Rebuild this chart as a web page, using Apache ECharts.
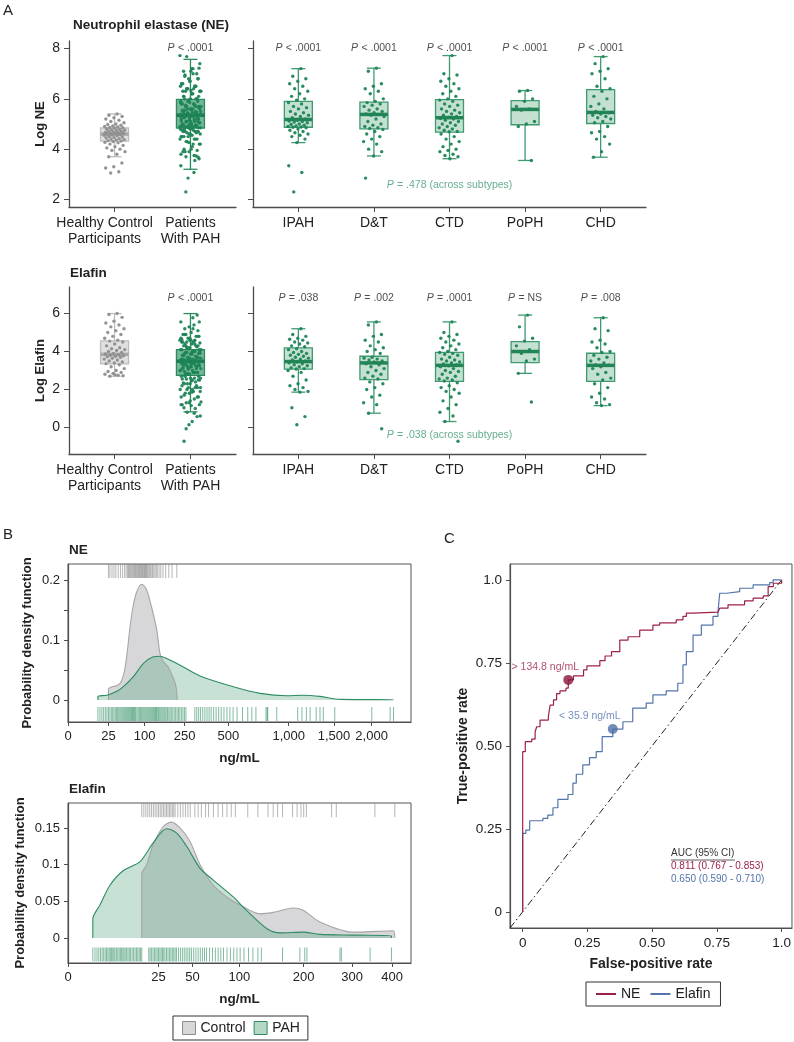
<!DOCTYPE html>
<html lang="en">
<head>
<meta charset="UTF-8"/>
<title>NE and Elafin in PAH</title>
<script src="https://cdn.jsdelivr.net/npm/echarts@6/dist/echarts.min.js"></script>
<style>
  html, body { margin: 0; padding: 0; background: #fff; }
  #main { width: 794px; height: 1042px; }
</style>
</head>
<body>
<div id="main"></div>
<script>
// ---------- panel A : categories ----------
var groupsA = ['Healthy Control\nParticipants', 'Patients\nWith PAH'];
var subtypes = ['IPAH', 'D&T', 'CTD', 'PoPH', 'CHD'];

// box stats: [lower whisker, q1, median, q3, upper whisker]
var neBoxMain = [[3.7, 4.32, 4.6, 4.84, 5.4], [3.2, 4.84, 5.35, 5.98, 7.57]];
var neBoxSub = [[4.26, 4.87, 5.18, 5.9, 7.2], [3.73, 4.81, 5.38, 5.87, 7.22], [3.62, 4.68, 5.25, 5.97, 7.72],
                [3.55, 4.97, 5.58, 5.93, 6.33], [3.68, 5.02, 5.46, 6.37, 7.68]];
var elBoxMain = [[2.7, 3.35, 3.85, 4.56, 6.0], [0.82, 2.74, 3.49, 4.1, 6.0]];
var elBoxSub = [[1.86, 3.07, 3.47, 4.19, 5.2], [0.75, 2.52, 3.4, 3.75, 5.56], [0.31, 2.43, 3.27, 3.96, 5.56],
                [2.85, 3.42, 4.0, 4.52, 5.92], [1.15, 2.43, 3.27, 3.91, 5.78]];

// p values
var neMainP = ['< .0001'];
var neSubP = ['< .0001', '< .0001', '< .0001', '< .0001', '< .0001'];
var neAcross = '= .478 (across subtypes)';
var elMainP = ['< .0001'];
var elSubP = ['= .038', '= .002', '= .0001', '= NS', '= .008'];
var elAcross = '= .038 (across subtypes)';

// individual points (log NE)
var neHealthy = [5.4, 5.35, 5.3, 5.25, 5.2, 5.15, 5.1, 5.05, 5.0, 4.98, 4.95, 4.92, 4.9, 4.88, 4.86, 4.85,
  4.83, 4.8, 4.78, 4.76, 4.75, 4.73, 4.72, 4.7, 4.68, 4.66, 4.65, 4.63, 4.62, 4.61,
  4.6, 4.58, 4.56, 4.55, 4.53, 4.5, 4.48, 4.46, 4.45, 4.42, 4.4, 4.38, 4.36, 4.34,
  4.32, 4.3, 4.27, 4.25, 4.2, 4.15, 4.1, 4.05, 4.0, 3.95, 3.9, 3.8, 3.7, 3.45, 3.3, 3.25, 3.1, 3.05];
var neIPAH = [7.2, 6.9, 6.8, 6.7, 6.6, 6.5, 6.4, 6.3, 6.2, 6.1, 6.0, 5.95, 5.85, 5.8, 5.7, 5.65, 5.6, 5.5, 5.45,
  5.4, 5.35, 5.3, 5.25, 5.2, 5.15, 5.12, 5.1, 5.08, 5.05, 5.0, 4.98, 4.95, 4.92, 4.9, 4.88, 4.87,
  4.85, 4.8, 4.75, 4.7, 4.65, 4.6, 4.55, 4.5, 4.4, 4.26, 3.34, 3.07, 2.3];
var neDT = [7.22, 7.1, 6.6, 6.5, 6.4, 6.3, 6.2, 6.0, 5.9, 5.85, 5.8, 5.75, 5.7, 5.6, 5.55, 5.5, 5.45, 5.4, 5.38,
  5.35, 5.3, 5.2, 5.1, 5.0, 4.95, 4.9, 4.85, 4.82, 4.78, 4.7, 4.6, 4.5, 4.4, 4.3, 4.2, 4.0, 3.9, 3.73, 2.85];
var neCTD = [7.72, 7.0, 6.95, 6.8, 6.7, 6.6, 6.5, 6.4, 6.3, 6.2, 6.1, 6.0, 5.95, 5.9, 5.8, 5.75, 5.7, 5.6, 5.55,
  5.5, 5.45, 5.4, 5.35, 5.3, 5.27, 5.22, 5.2, 5.15, 5.1, 5.05, 5.0, 4.95, 4.9, 4.85, 4.8, 4.75, 4.7, 4.69,
  4.6, 4.5, 4.4, 4.3, 4.2, 4.1, 4.0, 3.95, 3.9, 3.8, 3.75, 3.7, 3.62];
var nePoPH = [6.33, 6.3, 6.0, 5.9, 5.7, 5.6, 5.55, 5.1, 5.0, 4.9, 3.55];
var neCHD = [7.68, 7.4, 7.2, 7.1, 7.0, 6.8, 6.5, 6.4, 6.3, 6.1, 6.0, 5.8, 5.7, 5.6, 5.5, 5.45, 5.4, 5.35, 5.3,
  5.25, 5.2, 5.1, 5.05, 4.9, 4.7, 4.65, 4.5, 4.4, 4.2, 3.9, 3.68];

// individual points (log elafin)
var elHealthy = [6.0, 5.95, 5.8, 5.6, 5.5, 5.4, 5.3, 5.2, 5.1, 5.0, 4.9, 4.8, 4.7, 4.6, 4.55, 4.5, 4.4, 4.3, 4.2,
  4.15, 4.1, 4.05, 4.0, 3.95, 3.9, 3.87, 3.83, 3.8, 3.78, 3.75, 3.72, 3.7, 3.65, 3.6, 3.55, 3.5, 3.45, 3.4,
  3.36, 3.3, 3.2, 3.1, 3.0, 2.95, 2.9, 2.85, 2.8, 2.75, 2.7, 2.72, 2.78];
var elIPAH = [5.2, 4.9, 4.8, 4.7, 4.65, 4.6, 4.5, 4.45, 4.4, 4.3, 4.25, 4.15, 4.1, 4.0, 3.95, 3.9, 3.85, 3.8,
  3.75, 3.7, 3.65, 3.6, 3.55, 3.5, 3.45, 3.4, 3.35, 3.3, 3.25, 3.2, 3.15, 3.1, 3.08, 3.0, 2.9, 2.7, 2.5,
  2.3, 2.2, 2.1, 2.0, 1.9, 1.86, 1.04, 0.57, 0.14];
var elDT = [5.56, 5.4, 4.9, 4.8, 4.6, 4.5, 4.3, 4.2, 4.1, 4.0, 3.9, 3.7, 3.65, 3.6, 3.55, 3.5, 3.45, 3.35, 3.3,
  3.2, 3.1, 3.0, 2.9, 2.8, 2.7, 2.6, 2.55, 2.4, 2.3, 2.1, 2.0, 1.7, 1.6, 1.3, 1.2, 0.75, -0.07];
var elCTD = [5.56, 5.0, 4.9, 4.8, 4.7, 4.6, 4.5, 4.4, 4.3, 4.2, 4.1, 4.0, 3.95, 3.9, 3.85, 3.8, 3.7, 3.6, 3.55,
  3.5, 3.45, 3.4, 3.35, 3.3, 3.25, 3.2, 3.1, 3.0, 2.95, 2.9, 2.8, 2.7, 2.6, 2.55, 2.5, 2.45, 2.35, 2.2,
  2.1, 2.0, 1.9, 1.8, 1.6, 1.4, 1.2, 1.0, 0.8, 0.6, 0.31, -0.73];
var elPoPH = [5.92, 5.3, 4.7, 4.55, 4.3, 4.1, 3.9, 3.6, 3.5, 2.85, 1.34];
var elCHD = [5.78, 5.2, 5.1, 4.6, 4.5, 4.4, 4.2, 4.0, 3.95, 3.8, 3.7, 3.6, 3.5, 3.4, 3.3, 3.28, 3.2, 3.1, 2.9,
  2.8, 2.6, 2.5, 2.3, 2.1, 1.8, 1.6, 1.5, 1.3, 1.2, 1.15];

// ---------- panel B : densities, [ng/mL, density] ----------
var ctrlNE = [[25, 0], [25, 0.018], [30, 0.022], [38, 0.024], [45, 0.03], [52, 0.05], [58, 0.085], [63, 0.12],
  [70, 0.155], [79, 0.18], [92, 0.193], [105, 0.185], [121, 0.155], [138, 0.117], [149, 0.078], [161, 0.064],
  [180, 0.055], [194, 0.042], [210, 0.025], [217, 0]];
var pahNE = [[13, 0], [13, 0.006], [23, 0.008], [37, 0.014], [49, 0.022], [71, 0.039], [97, 0.061], [127, 0.072],
  [150, 0.073], [174, 0.069], [244, 0.055], [327, 0.04], [534, 0.022], [740, 0.011], [980, 0.007],
  [1150, 0.008], [1334, 0.006], [1576, 0.001], [2330, 0.0005], [2330, 0]];
var ctrlEl = [[16, 0], [16, 0.087], [18.4, 0.1], [22, 0.128], [28, 0.152], [33.5, 0.158], [39.7, 0.15],
  [47.7, 0.132], [56.8, 0.1], [69.8, 0.072], [84.6, 0.056], [101, 0.045], [128, 0.033], [148, 0.035],
  [181, 0.041], [199, 0.038], [231, 0.022], [303, 0.008], [403, 0.01], [407, 0]];
var pahEl = [[1.5, 0], [1.5, 0.026], [2.6, 0.045], [4.7, 0.072], [8.6, 0.092], [15.2, 0.104], [22, 0.13],
  [30, 0.149], [37.2, 0.143], [45, 0.125], [56.8, 0.095], [69.8, 0.079], [92.5, 0.056], [109, 0.038],
  [138, 0.013], [159, 0.007], [199, 0.008], [231, 0.005], [303, 0.004], [398, 0.003], [398, 0]];

// rug values, ng/mL
var rugCtrlNE = [25, 27, 30, 33, 36, 40, 44, 48, 52, 55, 58, 60, 62, 64, 66, 68, 70, 72, 74, 76, 78, 80, 82, 84,
  86, 88, 90, 92, 94, 96, 98, 100, 102, 104, 106, 108, 111, 114, 117, 120, 124, 128, 132, 136, 140, 146, 152,
  160, 170, 182, 195, 215];
var rugPahNE = [13, 15, 17, 19, 21, 23, 25, 27, 29, 31, 33, 35, 37, 39, 41, 43, 45, 47, 49, 51, 53, 55, 57, 59,
  61, 63, 65, 67, 69, 71, 73, 75, 77, 80, 83, 86, 89, 92, 95, 98, 101, 104, 107, 110, 113, 116, 119, 122, 125,
  128, 131, 134, 137, 140, 144, 148, 152, 156, 160, 164, 168, 172, 177, 182, 187, 192, 198, 204, 210, 216,
  222, 228, 235, 242, 249, 256, 300, 310, 320, 330, 342, 354, 366, 378, 390, 405, 420, 436, 452, 470, 490,
  510, 532, 560, 600, 640, 672, 705, 790, 800, 805, 886, 1091, 1135, 1182, 1223, 1290, 1334, 1372, 1510,
  2003, 2275, 2327];
var rugCtrlEl = [16, 17, 18, 19, 20, 21, 22, 23, 24, 25, 26, 27, 28, 29, 30, 31, 32, 33, 34, 35, 36, 38, 40, 42,
  44, 46, 48, 52, 55, 58, 62, 65, 70, 75, 80, 85, 90, 95, 111, 125, 140, 148, 155, 163, 180, 188, 195, 200,
  205, 255, 265, 355, 407];
var rugPahEl = [1.5, 1.8, 2.1, 2.4, 2.7, 3.0, 3.3, 3.6, 3.9, 4.2, 4.5, 4.8, 5.1, 5.4, 5.7, 6.0, 6.4, 6.8, 7.2, 7.6,
  8.0, 8.4, 8.8, 9.2, 9.7, 10.2, 10.7, 11.2, 11.8, 12.4, 13.0, 13.6, 14.2, 14.8, 15.4, 16.0, 19.5, 20.2, 21,
  21.8, 22.6, 23.4, 24.2, 25, 25.8, 26.6, 27.4, 28.2, 29, 30, 31, 32, 33, 34, 35, 36, 37, 38.5, 40, 41.5, 43,
  44.5, 46, 47.5, 49, 51, 53, 55, 57, 59, 61, 63, 66, 69, 72, 75, 78, 81, 85, 89, 93, 97, 101, 106, 112, 118,
  125, 130, 163, 193, 202, 206, 273, 276, 343, 398];

var neTicks = [0, 25, 100, 250, 500, 1000, 1500, 2000];
var neTickText = ['0', '25', '100', '250', '500', '1,000', '1,500', '2,000'];
var elTicks = [0, 25, 50, 100, 200, 300, 400];
var elTickText = ['0', '25', '50', '100', '200', '300', '400'];

// ---------- panel C : ROC ----------
var rocNE = [[0, 0], [0, 0.483], [0.01, 0.483], [0.01, 0.513], [0.035, 0.521], [0.048, 0.543], [0.054, 0.558],
  [0.067, 0.578], [0.099, 0.588], [0.106, 0.623], [0.119, 0.639], [0.131, 0.658], [0.144, 0.666],
  [0.167, 0.674], [0.176, 0.699], [0.196, 0.711], [0.235, 0.729], [0.248, 0.741], [0.298, 0.757],
  [0.318, 0.771], [0.343, 0.784], [0.375, 0.819], [0.407, 0.829], [0.452, 0.849], [0.503, 0.864],
  [0.529, 0.871], [0.593, 0.88], [0.619, 0.89], [0.632, 0.9], [0.658, 0.903], [0.754, 0.903], [0.761, 0.915],
  [0.793, 0.925], [0.857, 0.937], [0.89, 0.945], [0.929, 0.952], [0.948, 0.98], [0.968, 0.99], [1, 1]];
var rocEl = [[0, 0], [0, 0.237], [0.005, 0.237], [0.012, 0.247], [0.027, 0.275], [0.078, 0.282], [0.097, 0.292],
  [0.117, 0.314], [0.136, 0.339], [0.175, 0.354], [0.194, 0.388], [0.207, 0.415], [0.232, 0.443],
  [0.258, 0.465], [0.284, 0.483], [0.307, 0.528], [0.348, 0.551], [0.387, 0.573], [0.425, 0.614],
  [0.477, 0.629], [0.503, 0.654], [0.554, 0.666], [0.599, 0.689], [0.619, 0.744], [0.632, 0.784],
  [0.658, 0.834], [0.69, 0.864], [0.735, 0.89], [0.754, 0.903], [0.761, 0.96], [0.787, 0.965],
  [0.838, 0.975], [0.89, 0.985], [0.954, 0.992], [0.967, 1], [1, 1]];
var rocCut = [[0.176, 0.699], [0.348, 0.551]];
var rocCutText = ['> 134.8 ng/mL', '< 35.9 ng/mL'];
var rocTicks = [0, 0.25, 0.5, 0.75, 1];
var rocTickText = ['0', '0.25', '0.50', '0.75', '1.0'];
var aucText = ['AUC (95% CI)', '0.811 (0.767 - 0.853)', '0.650 (0.590 - 0.710)'];

// ---------- style ----------
var FONT = '"Liberation Sans", Arial, Helvetica, sans-serif';
var AX = '#4d4d4d';
var GREEN = '#1f8557';
var NE_RED = '#9b2148';
var EL_BLUE = '#5374aa';

var styleHealthy = { fill: '#e0e0e0', line: '#bdbdbd', med: '#a9a9a9' };
var stylePAH = { fill: '#74b697', line: '#2b8a5e', med: '#1d7a4f' };
var styleSub = { fill: '#c4e0d1', line: '#3f9a70', med: '#238456' };

function tr(v) { return Math.pow(v, 0.46); }

function jit(k, w) { return (((k * 0.6180339887) % 1) - 0.5) * w; }
function jitter(vals, xc) {
  return vals.map(function (v, k) { return [xc + jit(k + 1, 0.28), v]; });
}

function boxRender(styles) {
  return function (params, api) {
    var st = styles[params.dataIndex] || styles[0];
    var x = api.value(0);
    var lo = api.coord([x, api.value(1)]);
    var q1 = api.coord([x, api.value(2)]);
    var md = api.coord([x, api.value(3)]);
    var q3 = api.coord([x, api.value(4)]);
    var hi = api.coord([x, api.value(5)]);
    var cx = lo[0], hw = 14, cw = 7;
    var ln = { stroke: st.line, lineWidth: 1.3 };
    return {
      type: 'group',
      children: [
        { type: 'line', shape: { x1: cx, y1: q3[1], x2: cx, y2: hi[1] }, style: ln },
        { type: 'line', shape: { x1: cx, y1: q1[1], x2: cx, y2: lo[1] }, style: ln },
        { type: 'line', shape: { x1: cx - cw, y1: hi[1], x2: cx + cw, y2: hi[1] }, style: ln },
        { type: 'line', shape: { x1: cx - cw, y1: lo[1], x2: cx + cw, y2: lo[1] }, style: ln },
        { type: 'rect', shape: { x: cx - hw, y: q3[1], width: hw * 2, height: q1[1] - q3[1] },
          style: { fill: st.fill, stroke: st.line, lineWidth: 1.3 } },
        { type: 'line', shape: { x1: cx - hw, y1: md[1], x2: cx + hw, y2: md[1] },
          style: { stroke: st.med, lineWidth: 3.5 } }
      ]
    };
  };
}

function boxSeries(grid, stats, styles) {
  return {
    type: 'custom', xAxisIndex: grid, yAxisIndex: grid, z: 2, silent: true,
    dimensions: ['x', 'lo', 'q1', 'md', 'q3', 'hi'],
    encode: { x: 0, y: [1, 2, 3, 4, 5] },
    renderItem: boxRender(styles),
    data: stats.map(function (b, i) { return [i + 1].concat(b); })
  };
}

function pointSeries(grid, data, color) {
  return {
    type: 'scatter', xAxisIndex: grid, yAxisIndex: grid, z: 3, silent: true,
    symbol: 'circle', symbolSize: 3.4, itemStyle: { color: color, opacity: 0.95 },
    data: data
  };
}

var richP = {
  i: { fontStyle: 'italic', fontSize: 10.5, fontFamily: FONT, color: '#222' },
  n: { fontSize: 10.5, fontFamily: FONT, color: '#222' },
  gi: { fontStyle: 'italic', fontSize: 10.5, fontFamily: FONT, color: '#3f9a72' },
  gn: { fontSize: 10.5, fontFamily: FONT, color: '#3f9a72' }
};

function pSeries(grid, texts, x0, y, green) {
  return {
    type: 'scatter', xAxisIndex: grid, yAxisIndex: grid, symbolSize: 0, silent: true, z: 5,
    data: texts.map(function (t, i) { return { value: [x0 + i, y], txt: t }; }),
    label: {
      show: true, position: 'inside',
      formatter: function (p) {
        return green ? '{gi|P} {gn|' + p.data.txt + '}' : '{i|P} {n|' + p.data.txt + '}';
      },
      rich: richP
    }
  };
}

var richCat = {
  c: { fontSize: 14, color: '#222', fontFamily: FONT, lineHeight: 16 },
  s: { fontSize: 14, color: '#222', fontFamily: FONT, lineHeight: 16, padding: [0, 20, 0, 0] }
};

function catXAxis(grid, names, shiftFirst) {
  var vals = names.map(function (_, i) { return i + 1; });
  var lo = 0.4, hi = names.length + 0.6;
  // blank labels at both ends keep the real names clear of the end-label overlap check
  var labelVals = [lo].concat(vals).concat([hi]);
  return {
    type: 'value', gridIndex: grid, min: lo, max: hi,
    axisLine: { show: true, onZero: false, lineStyle: { color: AX, width: 1.3 } },
    axisTick: { show: true, customValues: vals, length: 5, lineStyle: { color: AX } },
    axisLabel: {
      customValues: labelVals, hideOverlap: false, margin: 8, rich: richCat,
      formatter: function (v) {
        var i = Math.round(v) - 1;
        if (Math.abs(v - (i + 1)) > 1e-6 || !names[i]) return '';
        var key = (shiftFirst && i === 0) ? 's' : 'c';
        return names[i].split('\n').map(function (s) { return '{' + key + '|' + s + '}'; }).join('\n');
      }
    },
    splitLine: { show: false }
  };
}

function logYAxis(grid, min, max, ticks, labels, name) {
  return {
    type: 'value', gridIndex: grid, min: min, max: max,
    name: name, nameLocation: 'middle', nameGap: 22,
    nameTextStyle: { fontSize: 13, fontWeight: 'bold', color: '#222', fontFamily: FONT },
    axisLine: { show: true, onZero: false, lineStyle: { color: AX, width: 1.3 } },
    axisTick: { show: true, customValues: ticks, length: 5, lineStyle: { color: AX } },
    axisLabel: { show: labels, customValues: ticks, fontSize: 14, color: '#222', margin: 9, fontFamily: FONT },
    splitLine: { show: false }
  };
}

function densXAxis(grid, ticks, texts, tmax) {
  var tv = ticks.map(tr);
  return {
    type: 'value', gridIndex: grid, min: 0, max: tmax,
    name: 'ng/mL', nameLocation: 'middle', nameGap: 29,
    nameTextStyle: { fontSize: 13.5, fontWeight: 'bold', color: '#222', fontFamily: FONT },
    axisLine: { show: true, onZero: false, lineStyle: { color: AX, width: 1.2 } },
    axisTick: { show: true, customValues: tv, length: 4, lineStyle: { color: AX } },
    axisLabel: {
      customValues: tv, hideOverlap: false,
      fontSize: 13, color: '#222', margin: 8, fontFamily: FONT,
      formatter: function (v) {
        for (var i = 0; i < tv.length; i++) { if (Math.abs(tv[i] - v) < 1e-6) return texts[i]; }
        return '';
      }
    },
    splitLine: { show: false }
  };
}

function densYAxis(grid, min, max, ticks, labelVals, gap) {
  return {
    type: 'value', gridIndex: grid, min: min, max: max,
    name: 'Probability density function', nameLocation: 'middle', nameGap: gap,
    nameTextStyle: { fontSize: 13, fontWeight: 'bold', color: '#222', fontFamily: FONT },
    axisLine: { show: true, onZero: false, lineStyle: { color: AX, width: 1.2 } },
    axisTick: { show: true, customValues: ticks, length: 4, lineStyle: { color: AX } },
    axisLabel: { customValues: labelVals, fontSize: 13, color: '#222', margin: 8, fontFamily: FONT,
      formatter: function (v) { return v === 0 ? '0' : String(+v.toFixed(2)); } },
    splitLine: { show: false }
  };
}

function densSeries(grid, name, pts, line, fill) {
  return {
    type: 'line', name: name, xAxisIndex: grid, yAxisIndex: grid, z: 2, silent: true,
    smooth: 0.3, symbol: 'none',
    data: pts.map(function (p) { return [tr(p[0]), p[1]]; }),
    lineStyle: { color: line, width: 1.1 },
    itemStyle: { color: line },
    areaStyle: { color: fill, opacity: 1 }
  };
}

function rugSeries(grid, vals, y, color) {
  return {
    type: 'scatter', xAxisIndex: grid, yAxisIndex: grid, z: 4, silent: true,
    symbol: 'rect', symbolSize: [1, 14], itemStyle: { color: color },
    data: vals.map(function (v) { return [tr(v), y]; })
  };
}

// PAH = all subtypes together
var neSubLists = [neIPAH, neDT, neCTD, nePoPH, neCHD];
var elSubLists = [elIPAH, elDT, elCTD, elPoPH, elCHD];
var nePAH = [].concat.apply([], neSubLists);
var elPAH = [].concat.apply([], elSubLists);

function subPoints(lists) {
  var out = [];
  lists.forEach(function (l, i) { out = out.concat(jitter(l, i + 1)); });
  return out;
}

var RUG_GREY = 'rgba(125,125,125,0.7)';
var RUG_GREEN = 'rgba(28,132,84,0.7)';

var series = [
  // A - NE
  boxSeries(0, neBoxMain, [styleHealthy, stylePAH]),
  pointSeries(0, jitter(neHealthy, 1), '#8e8e8e'),
  pointSeries(0, jitter(nePAH, 2), GREEN),
  pSeries(0, neMainP, 2, 8.0, false),
  boxSeries(1, neBoxSub, [styleSub]),
  pointSeries(1, subPoints(neSubLists), GREEN),
  pSeries(1, neSubP, 1, 8.0, false),
  pSeries(1, [neAcross], 3, 2.58, true),
  // A - Elafin
  boxSeries(2, elBoxMain, [styleHealthy, stylePAH]),
  pointSeries(2, jitter(elHealthy, 1), '#8e8e8e'),
  pointSeries(2, jitter(elPAH, 2), GREEN),
  pSeries(2, elMainP, 2, 6.82, false),
  boxSeries(3, elBoxSub, [styleSub]),
  pointSeries(3, subPoints(elSubLists), GREEN),
  pSeries(3, elSubP, 1, 6.82, false),
  pSeries(3, [elAcross], 3, -0.42, true),
  // B - NE
  densSeries(4, 'Control', ctrlNE, '#a6a6a6', '#d7d7da'),
  densSeries(4, 'PAH', pahNE, '#2e8b62', 'rgba(70,160,115,0.3)'),
  rugSeries(4, rugCtrlNE, 0.215, RUG_GREY),
  rugSeries(4, rugPahNE, -0.0235, RUG_GREEN),
  // B - Elafin
  densSeries(5, 'Control', ctrlEl, '#a6a6a6', '#d7d7da'),
  densSeries(5, 'PAH', pahEl, '#2e8b62', 'rgba(70,160,115,0.3)'),
  rugSeries(5, rugCtrlEl, 0.174, RUG_GREY),
  rugSeries(5, rugPahEl, -0.0225, RUG_GREEN),
  // C - ROC
  {
    type: 'line', xAxisIndex: 6, yAxisIndex: 6, silent: true, symbol: 'none', z: 1,
    data: [[-0.049, -0.048], [1, 1]],
    lineStyle: { color: '#222', width: 1, type: [7, 3, 1.5, 3] }
  },
  {
    type: 'line', name: 'Elafin', xAxisIndex: 6, yAxisIndex: 6, silent: true, symbol: 'none', step: 'end', z: 2,
    data: rocEl, color: EL_BLUE, lineStyle: { color: EL_BLUE, width: 1.2 }
  },
  {
    type: 'line', name: 'NE', xAxisIndex: 6, yAxisIndex: 6, silent: true, symbol: 'none', step: 'end', z: 3,
    data: rocNE, color: NE_RED, lineStyle: { color: NE_RED, width: 1.2 }
  },
  {
    type: 'scatter', xAxisIndex: 6, yAxisIndex: 6, silent: true, z: 5, symbolSize: 10,
    data: rocCut.map(function (c, i) {
      return {
        value: c,
        itemStyle: { color: i === 0 ? '#8a1538' : '#4d6fa6' },
        label: {
          show: true, position: 'top', offset: [-23, 3], formatter: rocCutText[i],
          fontSize: 10.5, fontFamily: FONT, color: i === 0 ? NE_RED : EL_BLUE
        }
      };
    })
  }
];

var option = {
  animation: false,
  backgroundColor: '#fff',
  textStyle: { fontFamily: FONT },
  grid: [
    { left: 69, top: 41, width: 167, height: 166 },
    { left: 253, top: 41, width: 393, height: 166 },
    { left: 69, top: 287, width: 167, height: 167 },
    { left: 253, top: 287, width: 393, height: 167 },
    { left: 68, top: 564, width: 343, height: 158, show: true, borderColor: '#555', borderWidth: 1 },
    { left: 68, top: 803, width: 343, height: 160, show: true, borderColor: '#555', borderWidth: 1 },
    { left: 510, top: 564, width: 282, height: 364, show: true, borderColor: '#555', borderWidth: 1 }
  ],
  xAxis: [
    catXAxis(0, groupsA, true),
    catXAxis(1, subtypes, false),
    catXAxis(2, groupsA, true),
    catXAxis(3, subtypes, false),
    densXAxis(4, neTicks, neTickText, 37.28),
    densXAxis(5, elTicks, elTickText, 16.65),
    {
      type: 'value', gridIndex: 6, min: -0.049, max: 1.04,
      name: 'False-positive rate', nameLocation: 'middle', nameGap: 29,
      nameTextStyle: { fontSize: 14, fontWeight: 'bold', color: '#222', fontFamily: FONT },
      axisLine: { show: true, onZero: false, lineStyle: { color: AX, width: 1.2 } },
      axisTick: { show: true, customValues: rocTicks, length: 4, lineStyle: { color: AX } },
      axisLabel: { customValues: rocTicks, fontSize: 13.5, color: '#222', margin: 8, fontFamily: FONT,
        formatter: function (v) { return rocTickText[rocTicks.indexOf(v)]; } },
      splitLine: { show: false }
    }
  ],
  yAxis: [
    logYAxis(0, 1.7, 8.3, [2, 4, 6, 8], true, 'Log NE'),
    logYAxis(1, 1.7, 8.3, [2, 4, 6, 8], false, ''),
    logYAxis(2, -1.4, 7.4, [0, 2, 4, 6], true, 'Log Elafin'),
    logYAxis(3, -1.4, 7.4, [0, 2, 4, 6], false, ''),
    densYAxis(4, -0.0367, 0.2267, [0, 0.05, 0.1, 0.15, 0.2], [0, 0.1, 0.2], 34),
    densYAxis(5, -0.034, 0.184, [0, 0.05, 0.1, 0.15], [0, 0.05, 0.1, 0.15], 41),
    {
      type: 'value', gridIndex: 6, min: -0.048, max: 1.048,
      name: 'True-positive rate', nameLocation: 'middle', nameGap: 40,
      nameTextStyle: { fontSize: 14, fontWeight: 'bold', color: '#222', fontFamily: FONT },
      axisLine: { show: true, onZero: false, lineStyle: { color: AX, width: 1.2 } },
      axisTick: { show: true, customValues: rocTicks, length: 4, lineStyle: { color: AX } },
      axisLabel: { customValues: rocTicks, fontSize: 13.5, color: '#222', margin: 8, fontFamily: FONT,
        formatter: function (v) { return rocTickText[rocTicks.indexOf(v)]; } },
      splitLine: { show: false }
    }
  ],
  legend: [
    {
      data: [
        { name: 'Control', itemStyle: { color: '#d7d7da', borderColor: '#8c8c8c', borderWidth: 1 } },
        { name: 'PAH', itemStyle: { color: '#b3d8c4', borderColor: '#2e8b62', borderWidth: 1 } }
      ],
      left: 173, top: 1016, icon: 'rect', itemWidth: 13, itemHeight: 13, itemGap: 8,
      borderColor: '#333', borderWidth: 1, padding: [5, 8, 5, 9], selectedMode: false,
      textStyle: { fontSize: 14, color: '#222', fontFamily: FONT }
    },
    {
      data: ['NE', 'Elafin'],
      left: 586, top: 982, icon: 'rect', itemWidth: 20, itemHeight: 2, itemGap: 10,
      borderColor: '#333', borderWidth: 1, padding: [5, 10, 5, 10], selectedMode: false,
      textStyle: { fontSize: 14, color: '#222', fontFamily: FONT }
    }
  ],
  graphic: [
    { type: 'text', left: 3, top: 3, style: { text: 'A', font: '15px ' + FONT, fill: '#222' } },
    { type: 'text', left: 73, top: 18, style: { text: 'Neutrophil elastase (NE)', font: 'bold 13.5px ' + FONT, fill: '#222' } },
    { type: 'text', left: 70, top: 266, style: { text: 'Elafin', font: 'bold 13.5px ' + FONT, fill: '#222' } },
    { type: 'text', left: 3, top: 527, style: { text: 'B', font: '15px ' + FONT, fill: '#222' } },
    { type: 'text', left: 444, top: 531, style: { text: 'C', font: '15px ' + FONT, fill: '#222' } },
    { type: 'text', left: 69, top: 543, style: { text: 'NE', font: 'bold 13.5px ' + FONT, fill: '#222' } },
    { type: 'text', left: 69, top: 782, style: { text: 'Elafin', font: 'bold 13.5px ' + FONT, fill: '#222' } },
    { type: 'text', left: 671, top: 848, style: { text: aucText[0], font: '10px ' + FONT, fill: '#333' } },
    { type: 'line', shape: { x1: 671, y1: 860, x2: 735, y2: 860 }, style: { stroke: '#333', lineWidth: 0.8 } },
    { type: 'text', left: 671, top: 861, style: { text: aucText[1], font: '10px ' + FONT, fill: NE_RED } },
    { type: 'text', left: 671, top: 874, style: { text: aucText[2], font: '10px ' + FONT, fill: EL_BLUE } }
  ],
  series: series
};

var chart = echarts.init(document.getElementById('main'), null, { renderer: 'canvas' });
chart.setOption(option);
</script>
</body>
</html>
